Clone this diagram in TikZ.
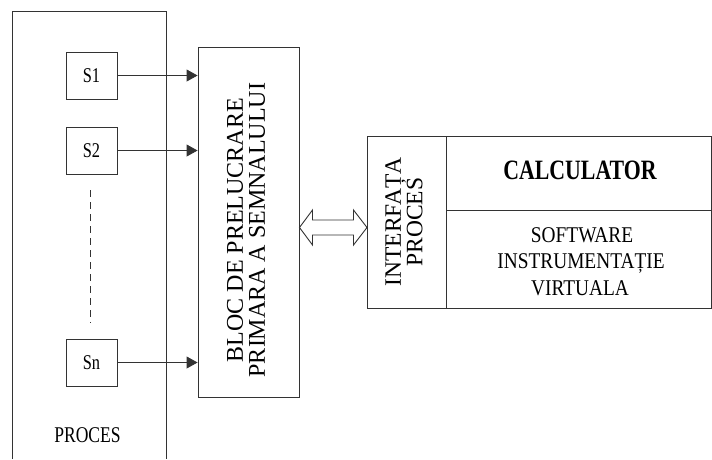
\documentclass[tikz,border=0pt]{standalone}
\usepackage{fontspec}
\setmainfont{Liberation Serif}
\newfontfamily\narrowfont[FakeStretch=0.86]{Liberation Serif}
\newfontfamily\sigfont[FakeStretch=0.78]{Liberation Serif}
\newfontfamily\calcfont[FakeStretch=0.78]{Liberation Serif}
\usetikzlibrary{arrows.meta}
\definecolor{linec}{HTML}{333333}
\tikzset{
  box/.style={draw=linec, line width=0.9pt, inner sep=0pt},
  sig/.style={box, minimum width=51pt, minimum height=47pt, font=\sigfont\fontsize{21}{21}\selectfont},
  link/.style={draw=linec, line width=0.9pt, -{Triangle[length=11pt,width=12pt]}},
  hlabel/.style={anchor=base, inner sep=0pt, font=\narrowfont\fontsize{22.5}{26.5}\selectfont},
  vlabel/.style={rotate=90, align=center, inner sep=0pt},
}
\begin{document}
\begin{tikzpicture}[x=1pt,y=-1pt]
\useasboundingbox (0,0) rectangle (712,459);
% process container (open at the bottom)
\draw[box] (12,459) -- (12,11) -- (166,11) -- (166,459);
\node[sig] (s1) at (91.5,75.5) {S1};
\node[sig] (s2) at (91.5,150.5) {S2};
\node[sig] (sn) at (91.5,362.5) {Sn};
\node[hlabel, font=\sigfont\fontsize{22.5}{26.5}\selectfont] (proc) at (87.5,442) {PROCES};
\draw[draw=linec, line width=0.9pt, dash pattern=on 7pt off 5pt] ([xshift=-1.5pt,yshift=-16pt]s2.south) -- ([xshift=-1.5pt,yshift=16pt]sn.north);
% bloc
\node[box, minimum width=101pt, minimum height=350pt] (bloc) at (248.5,222) {};
\node[vlabel, font=\fontsize{24}{22}\selectfont] (bloct) at (246,230) {BLOC DE PRELUCRARE\\PRIMARA A SEMNALULUI};
\draw[link] (s1) -- (s1 -| bloc.west);
\draw[link] (s2) -- (s2 -| bloc.west);
\draw[link] (sn) -- (sn -| bloc.west);
% right block
\node[box, minimum width=79pt, minimum height=172pt] (iface) at (406.5,222) {};
\node[vlabel, font=\fontsize{23.5}{19}\selectfont] (ifacet) at (404,222) {INTERFAȚA\\PROCES};
\node[box, minimum width=265pt, minimum height=74pt] (calc) at (578.5,173) {};
\node[box, minimum width=265pt, minimum height=98pt] (soft) at (578.5,259) {};
\node[anchor=base, inner sep=0pt, font=\calcfont\bfseries\fontsize{28}{28}\selectfont] (calct) at (580,179) {CALCULATOR};
\node[hlabel] (sw1) at (582,242) {SOFTWARE};
\node[hlabel] (sw2) at (581,268) {INSTRUMENTAȚIE};
\node[hlabel] (sw3) at (580,295) {VIRTUALA};
% hollow double arrow
\draw[draw=linec, line width=0.9pt, line join=miter]
  (299.5,227.5) -- (312.5,210) -- (312.5,220) -- (353.5,220) -- (353.5,210) -- (367,227.5)
  -- (353.5,245) -- (353.5,235) -- (312.5,235) -- (312.5,245) -- cycle;
\end{tikzpicture}
\end{document}
